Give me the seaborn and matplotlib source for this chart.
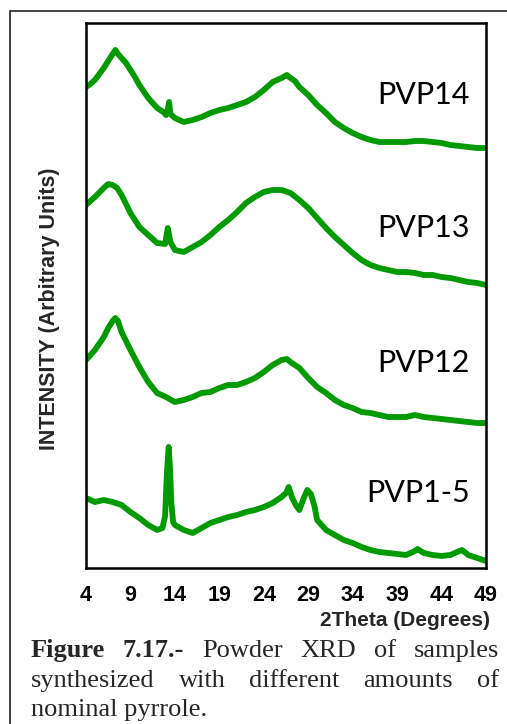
import numpy as np
import pandas as pd
import matplotlib
matplotlib.use('Agg')
import matplotlib.pyplot as plt
import seaborn as sns
from matplotlib.patches import Rectangle

# 2Theta (degrees) and intensities (arbitrary units, stacked)
theta_14 = [4, 4.5, 5, 5.5, 6, 6.5, 7, 7.3, 7.6, 8, 8.5, 9, 9.5, 10, 11, 12, 12.7, 13, 13.2, 13.35, 13.5, 14, 15, 16, 17, 18, 19,
            20, 21, 22, 23, 24, 25, 26, 26.6, 27, 27.5, 28, 29, 30, 31, 32, 33, 34, 35, 36, 37, 38, 39,
            40, 41, 42, 43, 44, 45, 46, 47, 48, 49]
pvp14 = [481, 484, 488, 494, 500, 507, 514, 518, 514, 510, 505, 498, 491, 483, 470, 460, 456, 453, 458, 466, 454, 450, 446, 448, 451, 455, 458,
         460, 463, 466, 471, 478, 486, 490, 493, 490, 487, 481, 473, 463, 455, 446, 440, 435, 431, 428, 426, 426, 426,
         426, 427, 427, 426, 425, 423, 422, 421, 420, 420]

theta_13 = [4, 5, 6, 6.5, 7, 7.5, 8, 9, 10, 11, 12, 12.9, 13.2, 13.5, 14, 15, 16, 17, 18, 19,
            20, 21, 22, 23, 24, 25, 26, 27, 28, 29, 30, 31, 32, 33, 34, 35, 36, 37, 38, 39,
            40, 41, 42, 43, 44, 45, 46, 47, 48, 49]
pvp13 = [363, 371, 380, 384, 383, 380, 373, 355, 341, 333, 325, 324, 340, 326, 318, 316, 321, 326, 333, 341,
         348, 356, 365, 371, 376, 378, 378, 375, 368, 360, 350, 340, 331, 323, 315, 308, 303, 300, 298, 296,
         296, 295, 293, 293, 291, 290, 288, 286, 285, 283]

theta_12 = [4, 5, 6, 6.5, 7, 7.3, 7.6, 8, 9, 10, 11, 12, 13, 14, 15, 16, 17, 18, 19,
            20, 21, 22, 23, 24, 25, 26, 26.6, 27, 28, 29, 30, 31, 32, 33, 34, 35, 36, 37, 38, 39,
            40, 41, 42, 43, 44, 45, 46, 47, 48, 49]
pvp12 = [208, 218, 231, 240, 247, 250, 247, 236, 218, 201, 186, 175, 171, 166, 168, 171, 175, 176, 180,
         183, 183, 186, 190, 196, 203, 208, 209, 206, 200, 190, 181, 175, 168, 163, 160, 156, 155, 153, 151, 151,
         151, 153, 151, 150, 149, 148, 147, 146, 145, 145]

theta_15 = [4, 5, 6, 7, 8, 9, 10, 11, 12, 12.6, 12.9, 13.1, 13.3, 13.45, 13.6, 13.8, 14, 15, 16, 17,
            18, 19, 20, 21, 22, 23, 24, 25, 26, 26.5, 26.8, 27.2, 27.6, 28, 28.5, 28.9, 29.3, 29.7,
            30, 31, 32, 33, 34, 35, 36, 37, 38, 39, 40, 41, 41.3, 42, 43, 44, 45, 46, 46.3, 47, 48, 49]
pvp15 = [70, 66, 68, 66, 63, 56, 50, 43, 38, 40, 52, 95, 121, 100, 65, 46, 43, 38, 35, 40,
         45, 48, 51, 53, 56, 58, 61, 65, 71, 75, 81, 70, 63, 58, 70, 78, 74, 62,
         48, 38, 33, 28, 25, 21, 18, 16, 15, 14, 13, 17, 19, 15, 13, 12, 13, 17, 18, 13, 10, 7]

samples = ["PVP14", "PVP13", "PVP12", "PVP1-5"]
xticks = [4, 9, 14, 19, 24, 29, 34, 39, 44, 49]

df = pd.concat([
    pd.DataFrame({"theta": theta_14, "I": pvp14, "sample": "PVP14"}),
    pd.DataFrame({"theta": theta_13, "I": pvp13, "sample": "PVP13"}),
    pd.DataFrame({"theta": theta_12, "I": pvp12, "sample": "PVP12"}),
    pd.DataFrame({"theta": theta_15, "I": pvp15, "sample": "PVP1-5"}),
])

sns.set_style("white")
plt.rcParams['font.family'] = ['Liberation Sans', 'DejaVu Sans']

W, H = 507, 724
fig = plt.figure(figsize=(W / 100, H / 100), dpi=100)
ax = fig.add_axes([86 / W, 1 - 568 / H, 400 / W, 545 / H])

green = "#009a00"
for s in samples:
    sub = df[df["sample"] == s]
    # thick trace stands in for the noisy band of the raw scan
    sns.lineplot(data=sub, x="theta", y="I", ax=ax, color=green, linewidth=4.2,
                 estimator=None, sort=False, legend=False)

ax.set_xlim(4, 49)
ax.set_ylim(0, 545)
ax.set_xticks(xticks)
ax.set_xticklabels([str(t) for t in xticks], fontsize=15.5, fontweight="bold")
ax.set_yticks([])
ax.tick_params(axis="x", direction="inout", length=8, width=1.5, pad=8, colors="black")
for sp in ax.spines.values():
    sp.set_visible(True)
    sp.set_color("black")
    sp.set_linewidth(1.8)
ax.set_xlabel("")
ax.set_ylabel("")

label_y = {"PVP14": 0.868, "PVP13": 0.624, "PVP12": 0.376, "PVP1-5": 0.138}
for s in samples:
    ax.text(0.96, label_y[s], s, transform=ax.transAxes, ha="right", va="center",
            fontsize=22, family=["Lato", "DejaVu Sans"], color="black")

fig.text(490 / W, 1 - 626 / H, "2Theta (Degrees)", ha="right", va="baseline",
         fontsize=15, fontweight="bold")
fig.text(50 / W, 1 - 309 / H, "INTENSITY (Arbitrary Units)", rotation=90, ha="center", va="center",
         fontsize=15.5, fontweight="bold")

# outer frame around figure + caption
fig.patches.append(Rectangle((10 / W, -0.1), 1.2, 1 - 11 / H + 0.1, transform=fig.transFigure,
                             fill=False, edgecolor="#333333", linewidth=1.3))

# justified caption
renderer = fig.canvas.get_renderer()
serif = ["Liberation Serif", "DejaVu Serif"]
cap_lines = [
    ([("Figure", "bold"), ("7.17.-", "bold"), ("Powder", "normal"), ("XRD", "normal"),
      ("of", "normal"), ("samples", "normal")], 657, True),
    ([("synthesized", "normal"), ("with", "normal"), ("different", "normal"),
      ("amounts", "normal"), ("of", "normal")], 687, True),
    ([("nominal pyrrole.", "normal")], 716, False),
]
left_px, right_px = 31, 499
for words, base, justify in cap_lines:
    items = []
    for w, wt in words:
        t = fig.text(0, 1 - base / H, w, fontsize=19, fontweight=wt, family=serif,
                     ha="left", va="baseline")
        items.append(t)
    widths = [t.get_window_extent(renderer).width for t in items]
    gap = (right_px - left_px - sum(widths)) / (len(items) - 1) if justify and len(items) > 1 else 0
    x = left_px
    for t, wd in zip(items, widths):
        t.set_x(x / W)
        x += wd + gap

fig.savefig("out.png", dpi=100)
